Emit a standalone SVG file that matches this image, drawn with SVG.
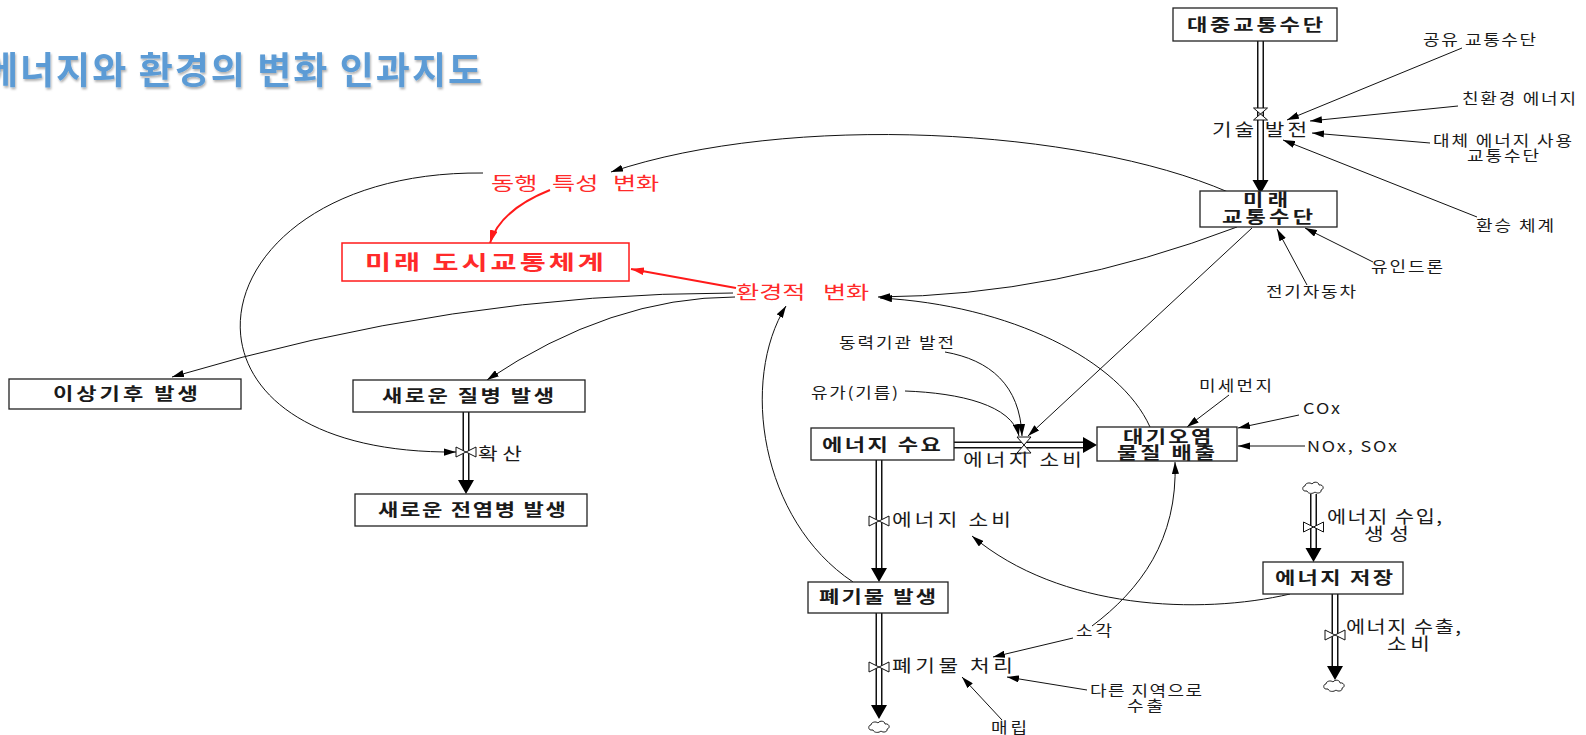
<svg xmlns="http://www.w3.org/2000/svg" width="1586" height="735" viewBox="0 0 1586 735">
<style>
.t{font-family:'Noto Sans CJK KR','Noto Sans CJK JP',sans-serif;fill:#1a1a1a}
.aux{font-size:15px}
.flw{font-size:17.5px}
.stk{font-size:17px;font-weight:700}
.red{fill:#ff2a2a;font-size:18px}
.box{fill:#fff;stroke:#222;stroke-width:1.3}
.lk{fill:none;stroke:#111;stroke-width:1;marker-end:url(#ah)}
.rl{fill:none;stroke:#ff1a1a;stroke-width:2;marker-end:url(#rh)}
.po{fill:none;stroke:#111;stroke-width:7}
.pi{fill:none;stroke:#fff;stroke-width:4}
.hd{fill:#000}
.vl{fill:#fff;stroke:#111;stroke-width:1}
.cl{fill:#fff;stroke:#222;stroke-width:1}
</style>
<defs>
<marker id="ah" viewBox="0 0 10 6" refX="10" refY="3" markerWidth="12" markerHeight="7.2" markerUnits="userSpaceOnUse" orient="auto"><path d="M0,0 L10,3 L0,6 z" fill="#000"/></marker>
<marker id="rh" viewBox="0 0 10 6" refX="10" refY="3" markerWidth="13" markerHeight="7.8" markerUnits="userSpaceOnUse" orient="auto"><path d="M0,0 L10,3 L0,6 z" fill="#ff1a1a"/></marker>
<path id="cloud" d="M-9,3 c-3,0 -3,-5 0,-5 c0,-3 5,-4 7,-2 c2,-3 7,-2 7,1 c4,-1 6,4 2,5 c1,3 -4,4 -6,2 c-2,2 -7,2 -8,-1 z"/>
<filter id="sh" x="-5%" y="-20%" width="110%" height="150%"><feDropShadow dx="1" dy="2" stdDeviation="1" flood-color="#000" flood-opacity="0.3"/></filter>
</defs>
<rect width="1586" height="735" fill="#fff"/>

<g id="title">
<text x="-16" y="84" textLength="498" lengthAdjust="spacing" style="font-family:'Noto Sans CJK KR',sans-serif;font-size:37px;font-weight:700;fill:#5b9bd5" filter="url(#sh)">에너지와 환경의 변화 인과지도</text>
</g>

<g id="connectors">
<path class="po" d="M1260.5,41 V182 M466,412 V482 M954,445 H1085 M879,460 V570 M879,613 V707 M1313.5,494 V550 M1335,594 V668"/>
<path class="pi" d="M1260.5,41 V182 M466,412 V482 M954,445 H1085 M879,460 V570 M879,613 V707 M1313.5,494 V550 M1335,594 V668"/>
<path class="hd" d="M1252.5,180 L1268.5,180 L1260.5,194 Z M458,480 L474,480 L466,494 Z M1083,437 L1083,453 L1097,445 Z M871,568 L887,568 L879,582 Z M871,705 L887,705 L879,719 Z M1305.5,548 L1321.5,548 L1313.5,562 Z M1327,666 L1343,666 L1335,680 Z"/>
<use href="#cloud" class="cl" x="880" y="727"/>
<use href="#cloud" class="cl" x="1314" y="488"/>
<use href="#cloud" class="cl" x="1335" y="686"/>
<path class="lk" d="M1462,48 L1287,120"/>
<path class="lk" d="M1458,106 L1310,121"/>
<path class="lk" d="M1430,143 L1312,133"/>
<path class="lk" d="M1477,217 L1283,140"/>
<path class="lk" d="M1373,262 L1305,228"/>
<path class="lk" d="M1307,285 L1277,229"/>
<path class="lk" d="M1228,192 C1080,128 790,112 611,172"/>
<path class="lk" d="M1237,227 Q1056,296 878,297"/>
<path class="lk" d="M1252,228 L1028,436"/>
<path class="lk" d="M1150,427 C1120,360 1010,305 880,298"/>
<path class="lk" d="M853,582 C760,520 740,380 786,306"/>
<path class="lk" d="M733,293 Q452,293 172,377"/>
<path class="lk" d="M735,297 Q611,297 487,380"/>
<path class="lk" d="M483,173 C190,170 140,455 456,452"/>
<path class="lk" d="M945,352 C990,360 1020,385 1022,436"/>
<path class="lk" d="M905,391 C960,393 1012,405 1019,436"/>
<path class="lk" d="M1229,395 L1187,427"/>
<path class="lk" d="M1299,415 L1238,428"/>
<path class="lk" d="M1305,446 L1238,446"/>
<path class="lk" d="M1290,594 C1200,615 1060,610 972,536"/>
<path class="lk" d="M1092,626 C1140,590 1178,540 1175,462"/>
<path class="lk" d="M1073,638 L993,657"/>
<path class="lk" d="M1087,690 L1007,677"/>
<path class="lk" d="M1002,720 L962,677"/>
<path class="rl" d="M550,190 Q500,210 490,243"/>
<path class="rl" d="M736,288 L631,269"/>
</g>

<g id="n-daejung"><rect class="box" x="1173" y="8" width="164" height="33"/><text class="t stk" transform="translate(1187,31) scale(1.3,1)" textLength="104.6" lengthAdjust="spacing">대중교통수단</text></g>
<g id="n-gisul"><path class="vl" d="M1253.5,108 L1267.5,108 L1253.5,120 L1267.5,120 Z"/><text class="t flw" transform="translate(1212,136) scale(1.22,1)" textLength="77.9" lengthAdjust="spacing">기술 발전</text></g>
<g id="n-miraegyotong"><rect class="box" x="1200" y="191" width="137" height="36"/><text class="t stk" transform="translate(1243,206) scale(1.3,1)" textLength="34.6" lengthAdjust="spacing">미래</text><text class="t stk" transform="translate(1222,223) scale(1.3,1)" textLength="70" lengthAdjust="spacing">교통수단</text></g>
<g id="n-gongyu"><text class="t aux" transform="translate(1423,45) scale(1.2,1)" textLength="94.2" lengthAdjust="spacing">공유 교통수단</text></g>
<g id="n-chinhwan"><text class="t aux" transform="translate(1462,104) scale(1.2,1)" textLength="95" lengthAdjust="spacing">친환경 에너지</text></g>
<g id="n-daeche"><text class="t aux" transform="translate(1433,146) scale(1.2,1)" textLength="115.8" lengthAdjust="spacing">대체 에너지 사용</text><text class="t aux" transform="translate(1467,161) scale(1.2,1)" textLength="60" lengthAdjust="spacing">교통수단</text></g>
<g id="n-hwanseung"><text class="t aux" transform="translate(1476,231) scale(1.2,1)" textLength="65" lengthAdjust="spacing">환승 체계</text></g>
<g id="n-drone"><text class="t aux" transform="translate(1371,272) scale(1.2,1)" textLength="60" lengthAdjust="spacing">유인드론</text></g>
<g id="n-ev"><text class="t aux" transform="translate(1266,297) scale(1.2,1)" textLength="75" lengthAdjust="spacing">전기자동차</text></g>
<g id="n-donghaeng"><text class="t red" transform="translate(491,190) scale(1.4,1)"><tspan x="0">동행</tspan><tspan x="43.6">특성</tspan><tspan x="87.1">변화</tspan></text></g>
<g id="n-miraedosi"><rect x="342" y="243" width="287" height="38" fill="#fff" stroke="#ff1a1a" stroke-width="1.5"/><text class="t red" transform="translate(365,270) scale(1.38,1)" textLength="173" lengthAdjust="spacing" style="font-size:20.5px;font-weight:700">미래 도시교통체계</text></g>
<g id="n-hwangyeong"><text class="t red" transform="translate(736,299) scale(1.4,1)"><tspan x="0">환경적</tspan><tspan x="62.1">변화</tspan></text></g>
<g id="n-isang"><rect class="box" x="9" y="379" width="232" height="30"/><text class="t stk" transform="translate(53,400) scale(1.3,1)" textLength="111.5" lengthAdjust="spacing">이상기후 발생</text></g>
<g id="n-jilbyeong"><rect class="box" x="353" y="380" width="232" height="32"/><text class="t stk" transform="translate(382,402) scale(1.3,1)" textLength="132.3" lengthAdjust="spacing">새로운 질병 발생</text></g>
<g id="n-hwaksan"><path class="vl" d="M456,447 L456,457 L476,447 L476,457 Z"/><text class="t flw" transform="translate(478,460) scale(1.22,1)" textLength="36" lengthAdjust="spacing">확산</text></g>
<g id="n-jeonyeom"><rect class="box" x="355" y="494" width="232" height="32"/><text class="t stk" transform="translate(378,516) scale(1.3,1)" textLength="144.5" lengthAdjust="spacing">새로운 전염병 발생</text></g>
<g id="n-dongryeok"><text class="t aux" transform="translate(839,348) scale(1.2,1)" textLength="95.8" lengthAdjust="spacing">동력기관 발전</text></g>
<g id="n-yuga"><text class="t aux" transform="translate(811,398) scale(1.2,1)" textLength="72.5" lengthAdjust="spacing">유가(기름)</text></g>
<g id="n-suyo"><rect class="box" x="811" y="428" width="143" height="32"/><text class="t stk" transform="translate(822,451) scale(1.3,1)" textLength="91.5" lengthAdjust="spacing">에너지 수요</text></g>
<g id="n-sobi1"><path class="vl" d="M1017,437 L1031,437 L1017,453 L1031,453 Z"/><text class="t flw" transform="translate(963,466) scale(1.22,1)" textLength="97.5" lengthAdjust="spacing">에너지 소비</text></g>
<g id="n-daegi"><rect class="box" x="1097" y="427" width="140" height="34"/><text class="t stk" transform="translate(1123,443) scale(1.3,1)" textLength="68" lengthAdjust="spacing">대기오염</text><text class="t stk" transform="translate(1117,459) scale(1.3,1)" textLength="75.4" lengthAdjust="spacing">물질 배출</text></g>
<g id="n-misemeonji"><text class="t aux" transform="translate(1199,391) scale(1.2,1)" textLength="60.8" lengthAdjust="spacing">미세먼지</text></g>
<g id="n-cox"><text class="t aux" transform="translate(1303,414) scale(1.2,1)" textLength="30.8" lengthAdjust="spacing">COx</text></g>
<g id="n-nox"><text class="t aux" transform="translate(1307,452) scale(1.2,1)" textLength="75" lengthAdjust="spacing">NOx, SOx</text></g>
<g id="n-sobi2"><path class="vl" d="M869,516 L869,526 L889,516 L889,526 Z"/><text class="t flw" transform="translate(892,526) scale(1.22,1)" textLength="97.5" lengthAdjust="spacing">에너지 소비</text></g>
<g id="n-pyegimul"><rect class="box" x="808" y="582" width="140" height="31"/><text class="t stk" transform="translate(819,603) scale(1.3,1)" textLength="90" lengthAdjust="spacing">폐기물 발생</text></g>
<g id="n-cheori"><path class="vl" d="M869,662 L869,672 L889,662 L889,672 Z"/><text class="t flw" transform="translate(892,672) scale(1.22,1)" textLength="99.2" lengthAdjust="spacing">폐기물 처리</text></g>
<g id="n-sogak"><text class="t aux" transform="translate(1076,636) scale(1.2,1)" textLength="30" lengthAdjust="spacing">소각</text></g>
<g id="n-dareun"><text class="t aux" transform="translate(1090,696) scale(1.2,1)" textLength="93.4" lengthAdjust="spacing">다른 지역으로</text><text class="t aux" transform="translate(1127,711) scale(1.2,1)" textLength="30" lengthAdjust="spacing">수출</text></g>
<g id="n-maerip"><text class="t aux" transform="translate(991,733) scale(1.2,1)" textLength="30" lengthAdjust="spacing">매립</text></g>
<g id="n-suip"><path class="vl" d="M1303.5,522 L1303.5,532 L1323.5,522 L1323.5,532 Z"/><text class="t flw" transform="translate(1327,523) scale(1.22,1)" textLength="94.3" lengthAdjust="spacing" style="font-size:17px">에너지 수입,</text><text class="t flw" transform="translate(1364,540) scale(1.22,1)" textLength="36.9" lengthAdjust="spacing">생성</text></g>
<g id="n-jeojang"><rect class="box" x="1263" y="562" width="140" height="32"/><text class="t stk" transform="translate(1275,584) scale(1.3,1)" textLength="90.8" lengthAdjust="spacing">에너지 저장</text></g>
<g id="n-suchul"><path class="vl" d="M1325,630 L1325,640 L1345,630 L1345,640 Z"/><text class="t flw" transform="translate(1346,633) scale(1.22,1)" textLength="94.3" lengthAdjust="spacing" style="font-size:17px">에너지 수출,</text><text class="t flw" transform="translate(1387,650) scale(1.22,1)" textLength="35.2" lengthAdjust="spacing">소비</text></g>
</svg>
